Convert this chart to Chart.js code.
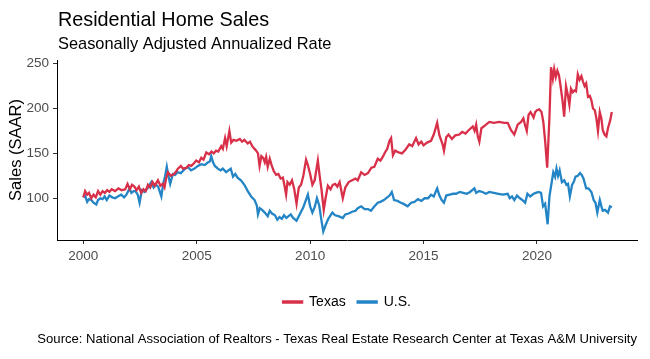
<!DOCTYPE html>
<html>
<head>
<meta charset="utf-8">
<script src="https://cdn.jsdelivr.net/npm/chart.js@4.4.0/dist/chart.umd.min.js"></script>
<style>
    html, body { margin: 0; padding: 0; background: #fff; }
    #wrap { position: relative; width: 650px; height: 359px; }
</style>
</head>
<body>
<div id="wrap"><canvas id="salesChart" width="650" height="359"></canvas></div>
<script>
// --- Data ---
const texasYears = [
    2000.00, 2000.08, 2000.17, 2000.25, 2000.35, 2000.45, 2000.55, 2000.65, 2000.75, 2000.85, 2000.95,
    2001.05, 2001.15, 2001.25, 2001.40, 2001.55, 2001.70, 2001.85, 2001.95,
    2002.05, 2002.15, 2002.25, 2002.35, 2002.45, 2002.55, 2002.65, 2002.75, 2002.85, 2002.95,
    2003.05, 2003.15, 2003.29, 2003.40, 2003.50, 2003.58, 2003.65, 2003.73, 2003.85,
    2004.00, 2004.10, 2004.17, 2004.30, 2004.40, 2004.55, 2004.65, 2004.76, 2004.88, 2004.98,
    2005.10, 2005.20, 2005.30, 2005.42, 2005.55, 2005.65, 2005.75, 2005.85, 2005.95,
    2006.08, 2006.15, 2006.25, 2006.32, 2006.44, 2006.52, 2006.62, 2006.75, 2006.90,
    2007.00, 2007.10, 2007.25, 2007.35, 2007.45, 2007.55, 2007.62, 2007.70, 2007.77, 2007.85, 2007.93,
    2008.00, 2008.06, 2008.13, 2008.22, 2008.30, 2008.40, 2008.50, 2008.60, 2008.70, 2008.80, 2008.87, 2008.94,
    2009.00, 2009.10, 2009.20, 2009.30, 2009.40, 2009.50, 2009.60, 2009.70, 2009.82, 2009.90,
    2010.00, 2010.10, 2010.20, 2010.34, 2010.42, 2010.50, 2010.60, 2010.68, 2010.78, 2010.90,
    2011.00, 2011.10, 2011.20, 2011.30, 2011.44, 2011.55, 2011.70, 2011.85,
    2012.00, 2012.10, 2012.25, 2012.40, 2012.55, 2012.70, 2012.83, 2012.98,
    2013.10, 2013.20, 2013.30, 2013.40, 2013.50, 2013.57, 2013.65, 2013.75, 2013.90,
    2014.05, 2014.20, 2014.37, 2014.50, 2014.67, 2014.78, 2014.90,
    2015.00, 2015.15, 2015.33, 2015.45, 2015.60, 2015.70, 2015.84, 2015.90,
    2016.00, 2016.10, 2016.25, 2016.40, 2016.58, 2016.70, 2016.85,
    2017.00, 2017.17, 2017.25, 2017.32, 2017.39, 2017.46, 2017.55, 2017.70, 2017.90,
    2018.10, 2018.34, 2018.55, 2018.71, 2018.85,
    2019.00, 2019.15, 2019.30, 2019.40, 2019.48, 2019.55, 2019.63, 2019.72, 2019.85, 2019.92,
    2020.00, 2020.10, 2020.20, 2020.28, 2020.36, 2020.45, 2020.55, 2020.62, 2020.70, 2020.76, 2020.83, 2020.90, 2020.97,
    2021.04, 2021.12, 2021.20, 2021.28, 2021.36, 2021.43, 2021.50, 2021.58, 2021.65, 2021.72, 2021.80, 2021.88, 2021.96,
    2022.03, 2022.10, 2022.17, 2022.25, 2022.33, 2022.40, 2022.47, 2022.55, 2022.62, 2022.69, 2022.77, 2022.84, 2022.90, 2022.98,
    2023.06, 2023.13, 2023.23, 2023.30
];
const texasSales = [
    101, 108, 104, 106, 100, 104, 101, 108, 104, 108, 106,
    109, 107, 110, 108, 111, 109, 110, 116,
    110, 115, 113, 109, 113, 106, 110, 108, 115, 112,
    118, 114, 120, 114, 116, 112, 122, 129, 125,
    127, 130, 133, 136, 133, 134, 137, 136, 139, 142,
    140, 145, 143, 151, 149, 152, 150, 153, 152,
    158, 155, 167, 158, 175, 162, 165, 164, 166,
    163, 165, 161, 163, 158, 155, 153, 150, 136, 147, 145,
    140, 146, 135, 144, 137, 130, 126, 127, 122, 123, 114, 104,
    118, 115, 120, 110, 94, 112, 115, 125, 143, 137,
    127, 115, 120, 142, 125, 110, 87, 100, 114, 110,
    115, 116, 113, 118, 100, 112, 118, 120,
    122, 120, 129, 126, 128, 134, 135, 144,
    142, 146, 151, 155, 164, 167, 148, 153, 151,
    150, 154, 160, 158, 167, 160, 163,
    159, 162, 164, 171, 184, 170, 160, 153,
    168, 171, 166, 170, 171, 174, 172,
    176, 180, 175, 182, 169, 163, 178, 181, 185,
    184, 185, 184, 184, 176,
    171, 182, 185, 189, 181, 175, 193, 196, 190, 196,
    198, 199, 196, 185, 164, 134, 190, 246, 233, 244, 235, 242, 237,
    225, 210, 191, 225, 215, 204, 222, 218, 220, 219, 238, 232, 236,
    230, 225, 228, 213, 214, 209, 200, 198, 189, 175, 196, 189, 176, 171,
    169, 178, 187, 196
];
const usYears = [
    2000.00, 2000.08, 2000.17, 2000.25, 2000.35, 2000.45, 2000.57, 2000.65, 2000.75, 2000.85, 2000.94,
    2001.03, 2001.15, 2001.28, 2001.40, 2001.52, 2001.67, 2001.80, 2001.90,
    2002.04, 2002.12, 2002.22, 2002.30, 2002.40, 2002.48, 2002.58, 2002.70, 2002.85,
    2003.00, 2003.10, 2003.20, 2003.30, 2003.44, 2003.52, 2003.60, 2003.68, 2003.75, 2003.83, 2003.95,
    2004.05, 2004.15, 2004.30, 2004.45, 2004.61, 2004.75, 2004.90,
    2005.05, 2005.20, 2005.35, 2005.50, 2005.58, 2005.64, 2005.72, 2005.80, 2005.93,
    2006.05, 2006.15, 2006.30, 2006.40, 2006.50, 2006.60, 2006.70, 2006.80, 2006.95,
    2007.10, 2007.25, 2007.40, 2007.55, 2007.65, 2007.70, 2007.78, 2007.88,
    2008.00, 2008.13, 2008.22, 2008.32, 2008.45, 2008.55, 2008.65, 2008.75, 2008.85, 2008.95,
    2009.05, 2009.15, 2009.25, 2009.40, 2009.50, 2009.60, 2009.70, 2009.80, 2009.90,
    2010.00, 2010.10, 2010.20, 2010.30, 2010.40, 2010.50, 2010.58, 2010.68, 2010.80, 2010.98,
    2011.10, 2011.25, 2011.44, 2011.55, 2011.70, 2011.85,
    2012.00, 2012.10, 2012.25, 2012.40, 2012.55, 2012.68, 2012.80, 2012.98,
    2013.10, 2013.25, 2013.40, 2013.50, 2013.60, 2013.70, 2013.85,
    2014.00, 2014.10, 2014.30, 2014.45, 2014.60, 2014.75, 2014.90,
    2015.05, 2015.20, 2015.33, 2015.45, 2015.60, 2015.70, 2015.80, 2015.90,
    2016.00, 2016.15, 2016.30, 2016.43, 2016.60, 2016.75, 2016.90,
    2017.05, 2017.24, 2017.32, 2017.45, 2017.60, 2017.75, 2017.90,
    2018.10, 2018.30, 2018.50, 2018.71, 2018.80, 2018.90,
    2019.00, 2019.12, 2019.25, 2019.40, 2019.48, 2019.58, 2019.70, 2019.85, 2019.95,
    2020.07, 2020.18, 2020.27, 2020.36, 2020.47, 2020.55, 2020.65, 2020.72, 2020.80, 2020.86, 2020.93,
    2021.00, 2021.10, 2021.20, 2021.30, 2021.37, 2021.45, 2021.55, 2021.62, 2021.70, 2021.80, 2021.90, 2021.97,
    2022.05, 2022.17, 2022.27, 2022.40, 2022.50, 2022.58, 2022.66, 2022.77, 2022.84, 2022.90,
    2023.00, 2023.13, 2023.22, 2023.30
];
const usSales = [
    101, 103, 96, 99, 98, 95, 93, 98, 100, 99, 102,
    98, 103, 101, 100, 102, 104, 101, 104,
    111, 106, 108, 108, 104, 95, 109, 107, 112,
    118, 112, 115, 113, 102, 116, 124, 135, 125, 116, 127,
    126, 129, 128, 132, 135, 131, 133,
    136, 138, 137, 140, 141, 147, 140, 136, 133,
    131, 133, 129, 131, 133, 124, 127, 123, 120,
    115, 108, 102, 98, 92, 82, 89, 87,
    84, 80, 86, 83, 81, 76, 79, 77, 81, 78,
    80, 82, 78, 75, 80, 85, 90, 97, 104,
    91, 84, 90, 100, 92, 75, 63, 70, 77, 84,
    81, 80, 78, 82, 83, 85,
    86, 89, 91, 88, 88, 86, 90, 95,
    96, 98, 101, 103, 107, 98, 97,
    95, 94, 91, 95, 96, 99, 97,
    100, 100, 104, 102, 111, 103, 98, 95,
    103, 104, 105, 105, 107, 106, 105,
    107, 111, 106, 108, 107, 105, 107,
    106, 105, 104, 105, 100, 102,
    98, 103, 100, 97, 95, 105, 102, 105, 106,
    107, 106, 91, 94, 71, 102, 118, 129, 124, 133, 125,
    131, 118, 120, 115, 116, 102, 115, 118, 124, 125, 128, 126,
    122, 111, 111, 107, 98, 95, 84, 98, 91, 86,
    87, 84, 91, 90
];
const seriesNames = ['Texas', 'U.S.'];
const seriesColors = ['#d9304a', '#2384c6'];
const xTickYears = [2000, 2005, 2010, 2015, 2020];
const yTickValues = [100, 150, 200, 250];

const FONT = '"Liberation Sans", Arial, Helvetica, sans-serif';

// --- Header / footer text ---
const headerFooter = {
    id: 'headerFooter',
    afterLayout(chart) {
        // center the legend under the plot panel, not the whole canvas
        const lg = chart.legend;
        if (!lg) return;
        const shift = (chart.chartArea.left + chart.chartArea.right) / 2 - (lg.left + lg.right) / 2;
        lg.left += shift;
        lg.right += shift;
        lg.top += 3;
        lg.bottom += 3;
    },
    afterDraw(chart) {
        const ctx = chart.ctx;
        ctx.save();
        ctx.fillStyle = '#000';
        ctx.textBaseline = 'alphabetic';
        ctx.textAlign = 'left';
        ctx.font = '19.8px ' + FONT;
        ctx.fillText('Residential Home Sales', 58, 26);
        ctx.font = '16.4px ' + FONT;
        ctx.fillText('Seasonally Adjusted Annualized Rate', 58, 49);
        ctx.font = '13.1px ' + FONT;
        ctx.textAlign = 'right';
        ctx.fillText('Source: National Association of Realtors - Texas Real Estate Research Center at Texas A&M University', 637, 343);
        ctx.restore();
    }
};

function toPoints(xs, ys) {
    return xs.map((x, i) => ({ x: x, y: ys[i] }));
}

const ctx = document.getElementById('salesChart').getContext('2d');
new Chart(ctx, {
    type: 'line',
    data: {
        datasets: [
            {
                label: seriesNames[0],
                data: toPoints(texasYears, texasSales),
                borderColor: seriesColors[0],
                backgroundColor: seriesColors[0],
                borderWidth: 2.3,
                pointRadius: 0,
                tension: 0
            },
            {
                label: seriesNames[1],
                data: toPoints(usYears, usSales),
                borderColor: seriesColors[1],
                backgroundColor: seriesColors[1],
                borderWidth: 2.3,
                pointRadius: 0,
                tension: 0
            }
        ]
    },
    options: {
        responsive: false,
        animation: false,
        devicePixelRatio: 1,
        layout: { padding: { top: 60, right: 13, bottom: 43, left: 0 } },
        plugins: {
            tooltip: { enabled: false },
            legend: {
                position: 'bottom',
                labels: {
                    boxWidth: 19,
                    boxHeight: 1,
                    padding: 12,
                    color: '#000',
                    font: { family: FONT, size: 14 }
                }
            }
        },
        scales: {
            x: {
                type: 'linear',
                min: 1998.84,
                max: 2024.41,
                afterBuildTicks: (scale) => { scale.ticks = xTickYears.map(v => ({ value: v })); },
                afterFit: (scale) => { scale.height = 40; },
                grid: { display: true, drawOnChartArea: false, drawTicks: true, tickLength: 4, color: '#333' },
                border: { display: true, color: '#000', width: 1 },
                ticks: {
                    color: '#4d4d4d',
                    padding: 4,
                    maxRotation: 0,
                    font: { family: FONT, size: 13.5 },
                    callback: (v) => String(v)
                }
            },
            y: {
                min: 53.5,
                max: 254,
                afterBuildTicks: (scale) => { scale.ticks = yTickValues.map(v => ({ value: v })); },
                afterFit: (scale) => { scale.width = 57; },
                grid: { display: true, drawOnChartArea: false, drawTicks: true, tickLength: 4, color: '#333' },
                border: { display: true, color: '#000', width: 1 },
                title: {
                    display: true,
                    text: 'Sales (SAAR)',
                    color: '#000',
                    padding: { top: 7, bottom: 0 },
                    font: { family: FONT, size: 16.5 }
                },
                ticks: {
                    color: '#4d4d4d',
                    padding: 4,
                    font: { family: FONT, size: 13.5 }
                }
            }
        }
    },
    plugins: [headerFooter]
});
</script>
</body>
</html>
